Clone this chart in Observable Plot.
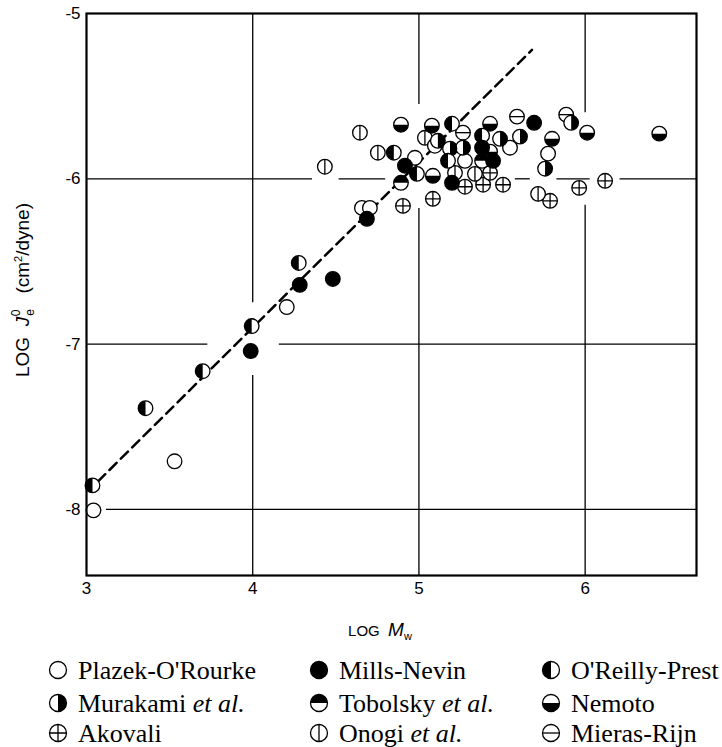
<!DOCTYPE html>
<html><head><meta charset="utf-8">
<script src="https://cdn.jsdelivr.net/npm/d3@7"></script>
<script src="https://cdn.jsdelivr.net/npm/@observablehq/plot@0.6"></script>
<style>
body{margin:0;background:#fff;}
#chart svg,#legend svg{display:block;}
</style></head><body><div id="chart"></div><div id="legend"></div>
<script>
// ---- data (log Mw, log Je0) ----
const plazek = [[3.042,-8.006],[3.530,-7.709],[4.205,-6.776],[4.657,-6.176],[4.705,-6.176],[4.976,-5.873],[5.096,-5.800],[5.277,-5.891],[5.548,-5.812],[5.777,-5.848]];
const millsNevin = [[3.988,-7.042],[4.283,-6.642],[4.482,-6.606],[4.687,-6.242],[4.916,-5.921],[5.199,-6.024],[5.446,-5.891],[5.693,-5.661],[5.380,-5.812]];
const oreillyPrest = [[3.036,-7.855],[3.355,-7.388],[3.699,-7.164],[3.994,-6.891],[4.277,-6.509],[4.988,-5.970],[5.199,-5.667],[5.175,-5.891],[5.380,-5.739],[4.849,-5.842]];
const murakami = [[5.114,-5.770],[5.187,-5.818],[5.265,-5.812],[5.488,-5.758],[5.608,-5.745],[5.759,-5.939],[5.916,-5.661]];
const tobolsky = [[4.892,-6.024],[5.380,-5.891]];
const nemoto = [[4.892,-5.673],[5.078,-5.679],[5.084,-5.982],[5.428,-5.667],[5.428,-5.836],[5.801,-5.758],[6.012,-5.721],[6.446,-5.727]];
const akovali = [[4.904,-6.164],[5.084,-6.121],[5.277,-6.048],[5.386,-6.036],[5.428,-5.964],[5.506,-6.036],[5.789,-6.133],[5.964,-6.055],[6.120,-6.012]];
const onogi = [[4.645,-5.721],[4.753,-5.842],[4.434,-5.927],[5.036,-5.752],[5.217,-5.964],[5.337,-5.970],[5.717,-6.091]];
const mierasRijn = [[5.265,-5.721],[5.590,-5.624],[5.886,-5.612]];

// dashed slope-1 guide line
const fitSlope = 1.0, fitIntercept = -10.9, fitFrom = 3.07, fitTo = 5.68;

// tick values
const xTicks = [3,4,5,6];
const yTicks = [-5,-6,-7,-8];
const xDomain = [3, 6.67];
const yDomain = [-8.4, -5];

// grid lines (broken where the data crowd them): [value, from, to]
const xGridSegments = [[4,-8.4,-7.19],[4,-6.75,-5],[5,-8.4,-6.18],[5,-5.55,-5],[6,-8.4,-6.16],[6,-5.60,-5]];
const yGridSegments = [[-6,3,4.36],[-6,4.52,4.80],[-6,5.58,5.67],[-6,5.83,6.03],[-6,6.21,6.67],[-7,3,3.73],[-7,4.16,6.67],[-8,3.12,6.67]];

// ---- symbols ----
const rOf = size => Math.sqrt(size / Math.PI);
const half = (a0, a1) => ({draw(ctx, size){const r = rOf(size); ctx.moveTo(r*Math.cos(a0), r*Math.sin(a0)); ctx.arc(0,0,r,a0,a1,false); ctx.closePath();}});
const HALF_LEFT = half(Math.PI/2, 3*Math.PI/2);
const HALF_RIGHT = half(-Math.PI/2, Math.PI/2);
const HALF_TOP = half(Math.PI, 2*Math.PI);
const HALF_BOTTOM = half(0, Math.PI);
const FULL = {draw(ctx, size){const r = rOf(size); ctx.moveTo(r,0); ctx.arc(0,0,r,0,2*Math.PI); ctx.closePath();}};
const VLINE = {draw(ctx, size){const r = rOf(size); ctx.moveTo(0,-r); ctx.lineTo(0,r);}};
const HLINE = {draw(ctx, size){const r = rOf(size); ctx.moveTo(-r,0); ctx.lineTo(r,0);}};
const CROSS = {draw(ctx, size){const r = rOf(size); ctx.moveTo(0,-r); ctx.lineTo(0,r); ctx.moveTo(-r,0); ctx.lineTo(r,0);}};

const series = [
  {name:["Plazek-O'Rourke"], data: plazek},
  {name:["Murakami ","et al."], data: murakami, fill: HALF_RIGHT},
  {name:["Akovali"], data: akovali, line: CROSS},
  {name:["Mills-Nevin"], data: millsNevin, fill: FULL},
  {name:["Tobolsky ","et al."], data: tobolsky, fill: HALF_TOP},
  {name:["Onogi ","et al."], data: onogi, line: VLINE},
  {name:["O'Reilly-Prest"], data: oreillyPrest, fill: HALF_LEFT},
  {name:["Nemoto"], data: nemoto, fill: HALF_BOTTOM},
  {name:["Mieras-Rijn"], data: mierasRijn, line: HLINE}
];

const R = 7.3, SW = 1.3;
function seriesMarks(s) {
  const base = {x: d => d[0], y: d => d[1], r: R};
  const m = [Plot.dot(s.data, {...base, fill: "white", stroke: "black", strokeWidth: SW})];
  if (s.fill) m.push(Plot.dot(s.data, {...base, symbol: s.fill, fill: "black", stroke: "none"}));
  if (s.line) m.push(Plot.dot(s.data, {...base, symbol: s.line, fill: "none", stroke: "black", strokeWidth: SW}));
  return m;
}
const drawOrder = [akovali, onogi, plazek, mierasRijn, nemoto, tobolsky, murakami, oreillyPrest, millsNevin]
  .map(d => series.find(s => s.data === d));

const chart = Plot.plot({
  width: 722, height: 645,
  marginLeft: 86, marginRight: 26, marginTop: 13, marginBottom: 70,
  style: {fontFamily: "'Liberation Sans', Arial, sans-serif", fontSize: "17px", background: "white", color: "black", overflow: "visible"},
  x: {domain: xDomain, label: null},
  y: {domain: yDomain, label: null},
  marks: [
    Plot.axisX({ticks: xTicks, tickSize: 0, tickPadding: 6, tickFormat: d => String(d), label: null, fontSize: 17}),
    Plot.axisY({ticks: yTicks, tickSize: 0, tickPadding: 6, tickFormat: d => String(d), label: null, fontSize: 17}),
    Plot.ruleX(xGridSegments, {x: d => d[0], y1: d => d[1], y2: d => d[2], stroke: "black", strokeWidth: 1.3}),
    Plot.ruleY(yGridSegments, {y: d => d[0], x1: d => d[1], x2: d => d[2], stroke: "black", strokeWidth: 1.3}),
    Plot.line([fitFrom, fitTo], {x: d => d, y: d => fitSlope*d + fitIntercept, stroke: "black", strokeWidth: 2.5, strokeDasharray: "10,6"}),
    ...drawOrder.flatMap(seriesMarks),
    Plot.frame({stroke: "black", strokeWidth: 2.2})
  ]
});
document.getElementById("chart").appendChild(chart);

// axis titles with italics / sub- and superscripts
const svg = d3.select(chart);
const yl = svg.append("text")
  .attr("transform", "translate(29,290) rotate(-90)")
  .attr("text-anchor", "middle")
  .attr("fill", "black")
  .style("font-family", "'Liberation Sans', Arial, sans-serif")
  .style("font-size", "19px");
yl.append("tspan").text("LOG\u00a0\u00a0");
yl.append("tspan").style("font-style", "italic").text("J");
yl.append("tspan").attr("dx", 1).attr("dy", 5).style("font-size", "12px").text("e");
yl.append("tspan").attr("dx", -7).attr("dy", -14).style("font-size", "12px").text("0");
yl.append("tspan").attr("dy", 9).text("\u00a0\u00a0\u00a0(cm");
yl.append("tspan").attr("dy", -7).style("font-size", "11px").text("2");
yl.append("tspan").attr("dy", 7).text("/dyne)");

const xl = svg.append("text")
  .attr("x", 380).attr("y", 636)
  .attr("text-anchor", "middle")
  .attr("fill", "black")
  .style("font-family", "'Liberation Sans', Arial, sans-serif")
  .style("font-size", "15px");
xl.append("tspan").text("LOG\u00a0\u00a0");
xl.append("tspan").style("font-style", "italic").style("font-size", "19px").text("M");
xl.append("tspan").attr("dy", 4).style("font-size", "11px").text("w");

// ---- legend ----
const legendCols = [58, 319, 551];
const legendRows = [670, 703, 733];
const lg = d3.select("#legend").append("svg").attr("width", 722).attr("height", 102)
  .attr("viewBox", "0 645 722 102");
const LR = 8.5;
series.forEach((s, i) => {
  const col = Math.floor(i / 3), row = i % 3;
  const cx = legendCols[col], cy = legendRows[row];
  const g = lg.append("g").attr("transform", `translate(${cx},${cy})`);
  g.append("circle").attr("r", LR).attr("fill", "white").attr("stroke", "black").attr("stroke-width", 1.3);
  const size = LR*LR*Math.PI;
  if (s.fill) { const p = d3.path(); s.fill.draw(p, size); g.append("path").attr("d", p.toString()).attr("fill", "black"); }
  if (s.line) { const p = d3.path(); s.line.draw(p, size); g.append("path").attr("d", p.toString()).attr("fill", "none").attr("stroke", "black").attr("stroke-width", 1.3); }
  const t = lg.append("text").attr("x", cx + 20).attr("y", cy + 9)
    .attr("fill", "black")
    .style("font-family", "'Liberation Serif', 'Times New Roman', serif")
    .style("font-size", "26px");
  t.append("tspan").text(s.name[0]);
  if (s.name[1]) t.append("tspan").style("font-style", "italic").text(s.name[1]);
});
</script>
</body></html>
